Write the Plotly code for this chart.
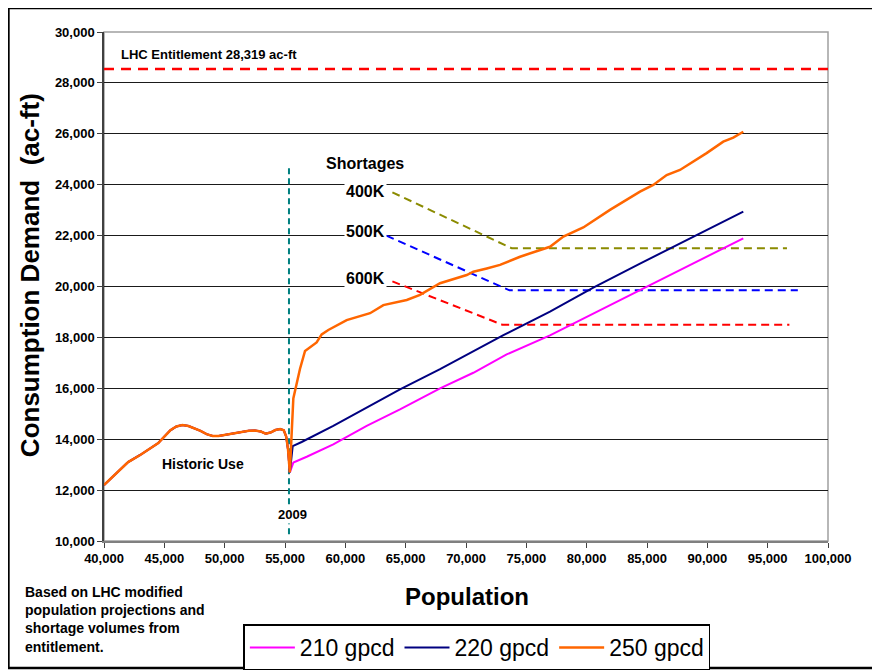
import plotly.graph_objects as go

# ---------------- data ----------------
hist_pop = [40000, 41000, 42000, 43000, 44000, 44500, 45000, 45500, 46000, 46500,
            47000, 47500, 48000, 48500, 49000, 49500, 50000, 50500, 51000, 51500,
            52000, 52500, 53000, 53400, 53800, 54200, 54600, 54900, 55100, 55250, 55400]
hist_use = [12200, 12650, 13100, 13380, 13680, 13850, 14100, 14350, 14500, 14560,
            14520, 14440, 14330, 14200, 14130, 14130, 14170, 14220, 14260, 14280,
            14330, 14340, 14300, 14220, 14260, 14360, 14400, 14350, 14100, 13600, 12700]

pop_210 = [55690, 56800, 59000, 61770, 64530, 67850, 70610, 73370, 76960, 80550, 84420, 88840, 91320, 92980]
dem_210 = [13080, 13310, 13800, 14520, 15170, 16000, 16610, 17330, 18080, 18950, 19860, 20910, 21500, 21890]

pop_220 = [55640, 56380, 59000, 61770, 64530, 67850, 73100, 76960, 80550, 84420, 88840, 92980]
dem_220 = [13730, 13890, 14520, 15240, 15960, 16750, 18090, 19010, 19960, 20900, 21960, 22940]

pop_250 = [55690, 56240, 56660, 57210, 57620, 58040, 58590, 60110, 60940, 62050, 63150, 64260,
           65090, 66190, 67290, 67850, 70060, 70610, 71720, 72820, 74480, 76130, 76960, 78070,
           79720, 81930, 84420, 85520, 86630, 87730, 89940, 91320, 92150, 92980]
dem_250 = [15600, 16760, 17470, 17670, 17800, 18120, 18290, 18680, 18790, 18950, 19270, 19400,
           19470, 19670, 19990, 20130, 20450, 20580, 20710, 20850, 21170, 21450, 21560, 21960,
           22320, 23010, 23730, 23990, 24380, 24580, 25240, 25690, 25850, 26080]

short400_pop = [63900, 73800, 96600]
short400_val = [23700, 21500, 21500]
short500_pop = [63400, 73600, 97500]
short500_val = [22000, 19850, 19850]
short600_pop = [63900, 73000, 96800]
short600_val = [20200, 18500, 18500]

entitlement_pop = [40000, 100000]
entitlement_val = [28550, 28550]

marker_2009_pop = [55330, 55330]
marker_2009_val = [10270, 24800]

x_ticks = list(range(40000, 100001, 5000))
y_ticks = list(range(10000, 30001, 2000))

FONT = "Liberation Sans, Arial, sans-serif"

fig = go.Figure()

# reference/shortage lines
fig.add_trace(go.Scatter(x=entitlement_pop, y=entitlement_val, mode="lines",
                         line=dict(color="#FF0000", width=2.5, dash="10px,7px"), showlegend=False))
fig.add_trace(go.Scatter(x=marker_2009_pop, y=marker_2009_val, mode="lines",
                         line=dict(color="#008080", width=2, dash="6px,4px"), showlegend=False))
fig.add_trace(go.Scatter(x=short400_pop, y=short400_val, mode="lines",
                         line=dict(color="#8B8B00", width=2, dash="8px,5px"), showlegend=False))
fig.add_trace(go.Scatter(x=short500_pop, y=short500_val, mode="lines",
                         line=dict(color="#0000FF", width=2, dash="8px,5px"), showlegend=False))
fig.add_trace(go.Scatter(x=short600_pop, y=short600_val, mode="lines",
                         line=dict(color="#FF0000", width=2, dash="8px,5px"), showlegend=False))

# demand series (historic + projection)
fig.add_trace(go.Scatter(x=hist_pop + pop_210, y=hist_use + dem_210, mode="lines",
                         name="210 gpcd", line=dict(color="#FF00FF", width=2)))
fig.add_trace(go.Scatter(x=hist_pop + pop_220, y=hist_use + dem_220, mode="lines",
                         name="220 gpcd", line=dict(color="#000080", width=2)))
fig.add_trace(go.Scatter(x=hist_pop + pop_250, y=hist_use + dem_250, mode="lines",
                         name="250 gpcd", line=dict(color="#FF6600", width=2.5)))

ann = []
def txt(x, y, t, size, xanchor="center", bg=None, xref="x", yref="y", yanchor="middle", align="center"):
    d = dict(x=x, y=y, text=t, showarrow=False, xref=xref, yref=yref,
             xanchor=xanchor, yanchor=yanchor, align=align,
             font=dict(family=FONT, size=size, color="black", weight="bold"))
    if bg:
        d["bgcolor"] = bg
        d["borderpad"] = 1
    ann.append(d)

txt(41240, 29135, "LHC Entitlement 28,319 ac-ft", 13, xanchor="left")
txt(61630, 24850, "Shortages", 16)
txt(61630, 23750, "400K", 16, bg="white")
txt(61630, 22180, "500K", 16, bg="white")
txt(61630, 20330, "600K", 16, bg="white")
txt(48200, 13030, "Historic Use", 14)
txt(55660, 11060, "2009", 13, bg="white")
txt(-0.112, -0.080, "Based on LHC modified<br>population projections and<br>shortage volumes from<br>entitlement.",
    14, xanchor="left", xref="paper", yref="paper", yanchor="top", align="left")
txt(0.501, -0.110, "Population", 24, xref="paper", yref="paper")
ann.append(dict(x=-0.102, y=0.5226, xref="paper", yref="paper", text="Consumption Demand\u00a0\u00a0(ac-ft)",
                textangle=-90, showarrow=False, xanchor="center", yanchor="middle",
                font=dict(family=FONT, size=26, color="black", weight="bold")))

# page has an 8px body margin: figure is 872x664 so it fits the 880x672 window
fig.update_layout(
    width=872, height=664,
    margin=dict(l=96, r=52, t=24, b=131, autoexpand=False),
    paper_bgcolor="white", plot_bgcolor="white",
    annotations=ann,
    xaxis=dict(range=[40000, 100000], tickvals=x_ticks, tickformat=",d",
               showgrid=False, zeroline=False, showline=True, linecolor="#808080", linewidth=1.5,
               ticks="outside", ticklen=5, tickcolor="#404040",
               tickfont=dict(family=FONT, size=13, color="black", weight="bold")),
    yaxis=dict(range=[10000, 30000], tickvals=y_ticks, tickformat=",d",
               showgrid=True, gridcolor="#1a1a1a", gridwidth=1, zeroline=False,
               showline=True, linecolor="#404040", linewidth=1.5,
               ticks="outside", ticklen=5, tickcolor="#404040",
               tickfont=dict(family=FONT, size=13, color="black", weight="bold")),
    legend=dict(orientation="h", x=0.515, xanchor="center", y=-0.2092, yanchor="middle",
                bordercolor="black", borderwidth=1.5, bgcolor="white",
                font=dict(family=FONT, size=23, color="black"),
                itemwidth=45, tracegroupgap=0),
    shapes=[
        dict(type="rect", xref="paper", yref="paper", x0=0, x1=1, y0=0, y1=1,
             line=dict(color="#A0A0A0", width=1.5), layer="below"),
        dict(type="rect", xref="paper", yref="paper", x0=-0.132, x1=1.066, y0=-0.2495, y1=1.047,
             line=dict(color="black", width=2.5)),
    ],
)

fig.write_html("out.html")
